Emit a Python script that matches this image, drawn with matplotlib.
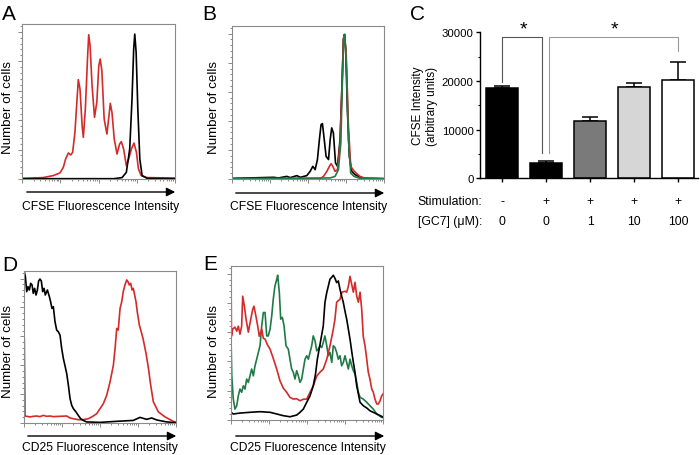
import matplotlib
matplotlib.use('Agg')
import matplotlib.pyplot as plt
import numpy as np
from matplotlib.ticker import MultipleLocator, FixedLocator
from matplotlib.patches import FancyArrowPatch

plt.rcParams['font.family'] = ['Liberation Sans', 'DejaVu Sans']

RED = '#d42a2a'
GREEN = '#1f7a45'
LW = 1.2

# ---- histogram data (x: % of log fluorescence axis, y: % of max cell count)
# panel A
a_red_x = [0, 13.8, 20.4, 24.8, 27.0, 28.5, 30.3, 31.8, 33.1, 34.6, 35.7, 36.8, 37.9, 39.3, 40.1,
           41.4, 42.8, 43.6, 44.5, 45.8, 47.4, 48.9, 50.2, 51.1, 52.2, 53.7, 55.5, 56.6, 57.7, 58.8,
           60.3, 62.1, 63.8, 64.9, 66.4, 68.2, 69.7, 71.5, 73.2, 74.8, 76.1, 77.9, 81.8, 100]
a_red_y = [0.4, 0.9, 2.2, 3.9, 7.5, 12.9, 16.8, 15.5, 17.2, 30.1, 47.3, 64.1, 58.1, 34.4, 26.9,
           45.2, 77.4, 93.1, 86.0, 60.2, 39.8, 49.5, 73.1, 77.4, 69.9, 38.7, 29.0, 38.7, 48.8, 43.0,
           25.8, 16.1, 22.6, 24.1, 19.4, 8.6, 12.9, 19.4, 23.2, 17.2, 6.5, 2.2, 0.9, 0.6]
a_black_x = [0, 59.9, 65.4, 68.2, 70.4, 71.9, 73.0, 73.7, 74.6, 75.7, 77.0, 78.5, 81.8, 100]
a_black_y = [0.2, 0.2, 0.9, 4.3, 19.4, 51.6, 83.9, 93.5, 81.7, 45.2, 12.9, 2.2, 0.4, 0.2]

# panel B
b_black_x = [0, 27.4, 30.6, 36.1, 38.3, 42.7, 44.9, 49.2, 51.4, 53.2, 54.7, 56.2, 57.5, 58.6, 59.5,
             60.2, 61.9, 63.5, 64.6, 65.6, 66.7, 68.1, 69.4, 71.1, 72.4, 73.3, 74.0, 74.8, 75.9, 77.2,
             78.8, 81.0, 84.2, 88.6, 100]
b_black_y = [0.4, 1.1, 0.7, 1.7, 0.9, 2.2, 1.1, 2.2, 5.0, 8.3, 6.1, 12.7, 25.8, 35.6, 36.2,
             30.1, 14.8, 12.7, 25.8, 33.4, 30.1, 10.5, 8.3, 25.8, 62.9, 91.3, 94.5, 84.7, 45.4, 14.8,
             5.0, 2.8, 1.3, 0.4, 0.2]
b_red_x = [0, 58.0, 60.2, 62.4, 64.1, 65.2, 66.3, 67.8, 69.4, 71.1, 72.4, 73.3, 74.0, 75.1, 76.6,
           78.1, 79.9, 81.6, 84.2, 86.4, 100]
b_red_y = [0.2, 0.2, 1.7, 5.0, 8.3, 10.0, 8.3, 5.0, 6.1, 23.6, 60.7, 91.3, 94.1, 82.5, 34.5,
           8.3, 5.7, 3.9, 1.7, 0.7, 0.2]
b_green_x = [0, 64.6, 67.8, 70.0, 71.6, 72.6, 73.5, 74.2, 75.3, 76.6, 78.1, 80.3, 84.2, 100]
b_green_y = [0.2, 0.7, 1.7, 6.1, 23.6, 62.9, 91.3, 94.5, 73.8, 25.8, 3.9, 1.7, 0.4, 0.2]

# panel D
d_black_x = [0.2, 0.9, 1.8, 2.6, 3.5, 4.4, 5.3, 6.1, 7.0, 7.9, 8.8, 9.6, 10.5, 11.4, 12.3,
             13.2, 14.0, 15.4, 16.7, 17.5, 18.4, 19.3, 20.4, 21.5, 22.6, 23.7, 24.8, 25.9, 26.9, 28.1,
             29.2, 30.3, 31.4, 32.5, 34.2, 35.7, 37.3, 39.0, 41.2, 50.0, 61.0, 71.9, 76.3, 80.7, 84.0,
             87.3, 93.9, 100]
d_black_y = [99.6, 96.3, 86.4, 89.7, 87.5, 91.9, 90.8, 85.3, 88.6, 84.2, 87.5, 93.4, 94.7, 93.4, 86.4,
             88.6, 84.2, 87.5, 83.1, 79.8, 75.4, 76.5, 66.6, 61.1, 60.0, 57.8, 49.0, 42.4, 38.0, 32.5,
             24.8, 16.0, 11.6, 9.4, 7.3, 5.0, 2.8, 1.7, 0.7, 0.4, 1.1, 1.7, 3.7, 2.4, 3.3,
             2.0, 0.7, 0.2]
d_red_x = [0.2, 0.7, 3.9, 6.1, 8.3, 10.5, 12.7, 14.9, 17.1, 19.3, 23.7, 28.1, 30.3, 32.5, 35.7,
           39.0, 42.3, 45.6, 47.8, 50.0, 52.2, 54.4, 56.6, 58.8, 60.0, 61.0, 62.0, 63.2, 64.3, 65.3,
           66.4, 67.6, 68.4, 69.3, 70.2, 71.1, 71.9, 72.8, 73.7, 74.5, 75.9, 78.3, 80.3, 81.9, 83.2,
           85.1, 88.4, 92.8, 98.2, 100]
d_red_y = [55.6, 4.6, 4.0, 4.4, 4.6, 4.2, 5.0, 4.4, 4.6, 4.2, 4.4, 4.6, 3.3, 2.8, 2.2,
           2.2, 2.8, 4.6, 6.1, 9.4, 12.7, 18.2, 27.0, 38.0, 50.0, 62.2, 61.1, 75.4, 79.8, 86.4,
           90.8, 94.1, 93.0, 90.8, 91.9, 87.5, 88.6, 84.2, 79.8, 73.2, 64.4, 55.6, 45.7, 35.8, 25.9,
           13.9, 7.3, 4.0, 1.1, 0.5]

# panel E
e_red_x = [0, 0.3, 1.1, 2.6, 3.8, 4.8, 5.9, 7.0, 7.7, 8.8, 9.9, 11.4, 13.0, 14.3, 15.1,
           16.4, 17.6, 18.6, 20.2, 21.3, 22.4, 23.9, 25.7, 27.8, 30.1, 32.2, 34.4, 36.6, 38.8, 41.0,
           43.2, 45.4, 47.6, 49.8, 52.0, 54.1, 56.4, 58.6, 60.7, 63.0, 65.1, 67.3, 68.4, 69.5, 71.7,
           73.0, 75.0, 76.1, 77.2, 78.3, 79.4, 80.5, 81.6, 82.7, 83.8, 84.9, 86.0, 87.0, 88.2, 89.3,
           90.3, 91.4, 92.6, 93.6, 94.7, 95.9, 96.9, 98.0, 99.1, 100]
e_red_y = [99.8, 54.4, 59.0, 60.3, 57.7, 60.9, 55.7, 60.9, 80.4, 73.9, 65.5, 57.0, 65.5, 71.9, 73.9,
           67.4, 60.9, 54.4, 59.0, 53.0, 52.5, 49.0, 46.0, 40.0, 33.0, 25.5, 20.7, 18.0, 14.7, 13.6,
           13.8, 12.5, 13.5, 13.6, 18.0, 22.0, 28.5, 31.1, 33.1, 39.5, 48.0, 59.0, 65.5, 76.5, 78.4,
           83.0, 83.6, 83.0, 86.8, 93.3, 88.1, 83.0, 89.4, 80.4, 76.5, 83.0, 71.9, 54.4, 48.0, 39.5,
           31.1, 26.6, 20.1, 18.1, 13.6, 10.4, 10.4, 12.3, 15.6, 16.9]
e_green_x = [0, 0.5, 1.5, 2.6, 3.8, 4.8, 5.9, 7.0, 8.1, 9.2, 10.3, 11.4, 12.5, 13.6, 14.7,
             15.8, 16.9, 18.0, 19.1, 20.2, 21.3, 22.4, 23.5, 24.5, 25.7, 26.8, 27.8, 28.9, 30.1, 30.7,
             31.8, 32.7, 33.8, 34.9, 36.2, 37.7, 38.8, 39.9, 41.0, 42.1, 43.2, 44.3, 45.4, 46.5, 47.6,
             48.7, 49.8, 50.9, 52.0, 53.1, 54.1, 55.3, 56.4, 57.4, 58.6, 59.7, 60.7, 61.8, 63.0, 64.0,
             65.1, 66.3, 67.3, 68.4, 69.5, 70.6, 71.7, 72.8, 73.9, 75.0, 76.1, 77.2, 78.3, 79.4, 80.5,
             81.6, 82.7, 83.8, 84.9, 87.0, 89.3, 91.4, 93.6, 95.9, 99.1, 100]
e_green_y = [53.8, 28.7, 13.6, 7.1, 9.3, 15.7, 20.1, 18.0, 22.2, 20.1, 26.6, 24.4, 28.7, 33.1, 28.7,
             35.2, 39.5, 43.9, 48.2, 61.1, 69.8, 69.8, 54.6, 54.6, 59.0, 67.6, 78.4, 87.0, 91.4, 94.0,
             82.8, 65.5, 66.6, 61.1, 48.2, 46.0, 39.5, 33.1, 30.9, 26.6, 32.0, 28.7, 24.4, 26.6, 33.1,
             39.5, 41.7, 39.5, 43.9, 48.2, 54.6, 51.4, 44.9, 46.0, 48.2, 47.1, 50.4, 54.6, 48.2, 41.7,
             43.9, 37.4, 48.2, 47.1, 43.9, 39.5, 41.7, 35.2, 37.4, 41.7, 37.4, 33.1, 39.5, 35.2, 32.0,
             29.8, 24.4, 18.0, 14.7, 13.6, 11.5, 9.3, 7.1, 3.9, 1.7, 1.6]
e_black_x = [0, 1.5, 5.9, 12.5, 19.1, 25.7, 30.1, 34.4, 38.8, 43.2, 45.4, 47.6, 49.8, 52.0, 54.1,
             55.6, 56.8, 58.6, 60.7, 61.8, 63.0, 64.0, 65.1, 66.3, 67.3, 68.4, 69.5, 70.6, 71.7, 72.8,
             73.9, 75.0, 76.1, 77.2, 78.3, 79.4, 80.5, 81.6, 82.7, 83.8, 84.9, 87.0, 89.3, 91.4, 95.9,
             99.1, 100]
e_black_y = [5.0, 3.9, 4.5, 5.0, 5.4, 5.0, 3.9, 2.8, 2.1, 3.2, 5.0, 7.1, 11.5, 15.7, 22.2,
             29.8, 39.5, 49.3, 61.1, 76.3, 82.8, 86.8, 91.4, 92.7, 94.0, 92.0, 89.2, 90.3, 84.9, 80.4,
             76.3, 70.6, 65.5, 59.0, 52.5, 44.7, 37.4, 30.9, 22.2, 16.9, 11.5, 9.3, 7.8, 6.0, 3.9,
             2.4, 1.9]

# ---- panel C bar data
stimulation = ['-', '+', '+', '+', '+']
gc7_um = ['0', '0', '1', '10', '100']
cfse_mean = [18500, 3200, 11800, 18800, 20200]
cfse_err = [400, 350, 800, 700, 3800]
bar_colors = ['black', 'black', '#7a7a7a', '#d6d6d6', 'white']


fig = plt.figure(figsize=(7, 4.56), dpi=100)
W, H = 700.0, 456.0


def frac(x0, y0, x1, y1):
    # pixel box (top-left origin) -> figure fraction rect
    return [x0 / W, 1 - y1 / H, (x1 - x0) / W, (y1 - y0) / H]


# log-decade tick positions on the 0-100 axis
decades = [0, 25, 50, 75, 100]
minor_pos = [d + 25 * np.log10(k) for d in decades[:-1] for k in range(2, 10)]


def hist_axes(box):
    ax = fig.add_axes(frac(*box))
    ax.set_xlim(0, 100)
    ax.set_ylim(0, 100)
    for s in ax.spines.values():
        s.set_color('#8a8a8a')
        s.set_linewidth(0.8)
    ax.xaxis.set_major_locator(FixedLocator(decades))
    ax.xaxis.set_minor_locator(FixedLocator(minor_pos))
    ax.yaxis.set_major_locator(MultipleLocator(19))
    ax.yaxis.set_minor_locator(MultipleLocator(19 / 5))
    ax.tick_params(which='both', direction='out', color='#777777', width=0.6,
                   labelbottom=False, labelleft=False)
    ax.tick_params(which='major', length=3)
    ax.tick_params(which='minor', length=1.5)
    return ax


def arrow(x0, x1, y):
    fig.add_artist(FancyArrowPatch((x0 / W, 1 - y / H), (x1 / W, 1 - y / H),
                                   transform=fig.transFigure, arrowstyle='-|>',
                                   mutation_scale=13, lw=1.0, color='black'))


def ftext(x, y, s, **kw):
    fig.text(x / W, 1 - y / H, s, **kw)


# panel A
axA = hist_axes((22, 25, 175, 180))
axA.plot(a_red_x, a_red_y, color=RED, lw=LW)
axA.plot(a_black_x, a_black_y, color='black', lw=LW)

# panel B
axB = hist_axes((232, 27, 384, 180))
axB.plot(b_black_x, b_black_y, color='black', lw=LW)
axB.plot(b_red_x, b_red_y, color=RED, lw=LW)
axB.plot(b_green_x, b_green_y, color=GREEN, lw=LW)

# panel D
axD = hist_axes((24, 272, 176, 424))
axD.plot(d_red_x, d_red_y, color=RED, lw=LW)
axD.plot(d_black_x, d_black_y, color='black', lw=LW)

# panel E
axE = hist_axes((231, 267, 383, 421))
axE.plot(e_green_x, e_green_y, color=GREEN, lw=LW)
axE.plot(e_red_x, e_red_y, color=RED, lw=LW)
axE.plot(e_black_x, e_black_y, color='black', lw=LW)

# arrows + labels under histograms
arrow(24, 178, 193)
arrow(233, 387, 194)
arrow(25, 179, 437)
arrow(233, 387, 437)
ftext(101, 207, 'CFSE Fluorescence Intensity', ha='center', va='center', fontsize=8.7)
ftext(309, 207, 'CFSE Fluorescence Intensity', ha='center', va='center', fontsize=8.7)
ftext(100, 448, 'CD25 Fluorescence Intensity', ha='center', va='center', fontsize=8.7)
ftext(308, 448, 'CD25 Fluorescence Intensity', ha='center', va='center', fontsize=8.7)
for x, y in [(8, 108), (214, 108), (8, 352), (214, 352)]:
    ftext(x, y, 'Number of cells', ha='center', va='center', rotation=90, fontsize=9.6)

# panel letters
for x, y, s in [(2, 5, 'A'), (202, 5, 'B'), (410, 5, 'C'), (2, 256, 'D'), (203, 255, 'E')]:
    ftext(x, y, s, ha='left', va='top', fontsize=15)

# panel C
axC = fig.add_axes(frac(480, 33.3, 698, 179.3))
pos = np.arange(len(cfse_mean))
axC.bar(pos, cfse_mean, width=0.72, color=bar_colors, edgecolor='black', linewidth=1.1, zorder=2)
axC.errorbar(pos, cfse_mean, yerr=[np.zeros(len(cfse_err)), cfse_err], fmt='none',
             ecolor='black', elinewidth=1.1, capsize=5.5, capthick=1.1, zorder=1)
axC.set_xlim(-0.5, 4.45)
axC.set_ylim(0, 30000)
axC.spines['top'].set_visible(False)
axC.spines['right'].set_visible(False)
axC.spines['left'].set_linewidth(1.0)
axC.spines['bottom'].set_linewidth(1.0)
axC.set_yticks([0, 10000, 20000, 30000])
axC.yaxis.set_minor_locator(MultipleLocator(5000))
axC.set_xticks(pos)
axC.tick_params(axis='x', labelbottom=False, length=3, width=1.0)
axC.tick_params(axis='y', which='major', length=3, width=1.0, labelsize=8.2, pad=1.5)
axC.tick_params(axis='y', which='minor', length=1.8, width=0.8)
fig.text(425 / W, 1 - 106 / H, 'CFSE Intensity\n(arbitrary units)', rotation=90,
         ha='center', va='center', ma='center', fontsize=8.5, linespacing=1.15)

# significance brackets
axC.plot([0, 0, 0.91, 0.91], [19700, 29100, 29100, 5200], color='#555555', lw=0.8, clip_on=False)
axC.plot([1.07, 1.07, 4.0, 4.0], [5200, 29100, 29100, 26200], color='#9a9a9a', lw=0.8, clip_on=False)
axC.text(0.48, 30700, '*', ha='center', va='center', fontsize=14, clip_on=False)
axC.text(2.55, 30700, '*', ha='center', va='center', fontsize=14, clip_on=False)

# condition rows under the bars
tr = axC.get_xaxis_transform()
axC.text(-0.45, -0.155, 'Stimulation:', transform=tr, ha='right', va='center', fontsize=8.8)
axC.text(-0.45, -0.292, '[GC7] (\u03bcM):', transform=tr, ha='right', va='center', fontsize=8.8)
for i in pos:
    axC.text(i, -0.155, stimulation[i], transform=tr, ha='center', va='center', fontsize=8.8)
    axC.text(i, -0.292, gc7_um[i], transform=tr, ha='center', va='center', fontsize=8.8)

fig.savefig('out.png', dpi=100)
